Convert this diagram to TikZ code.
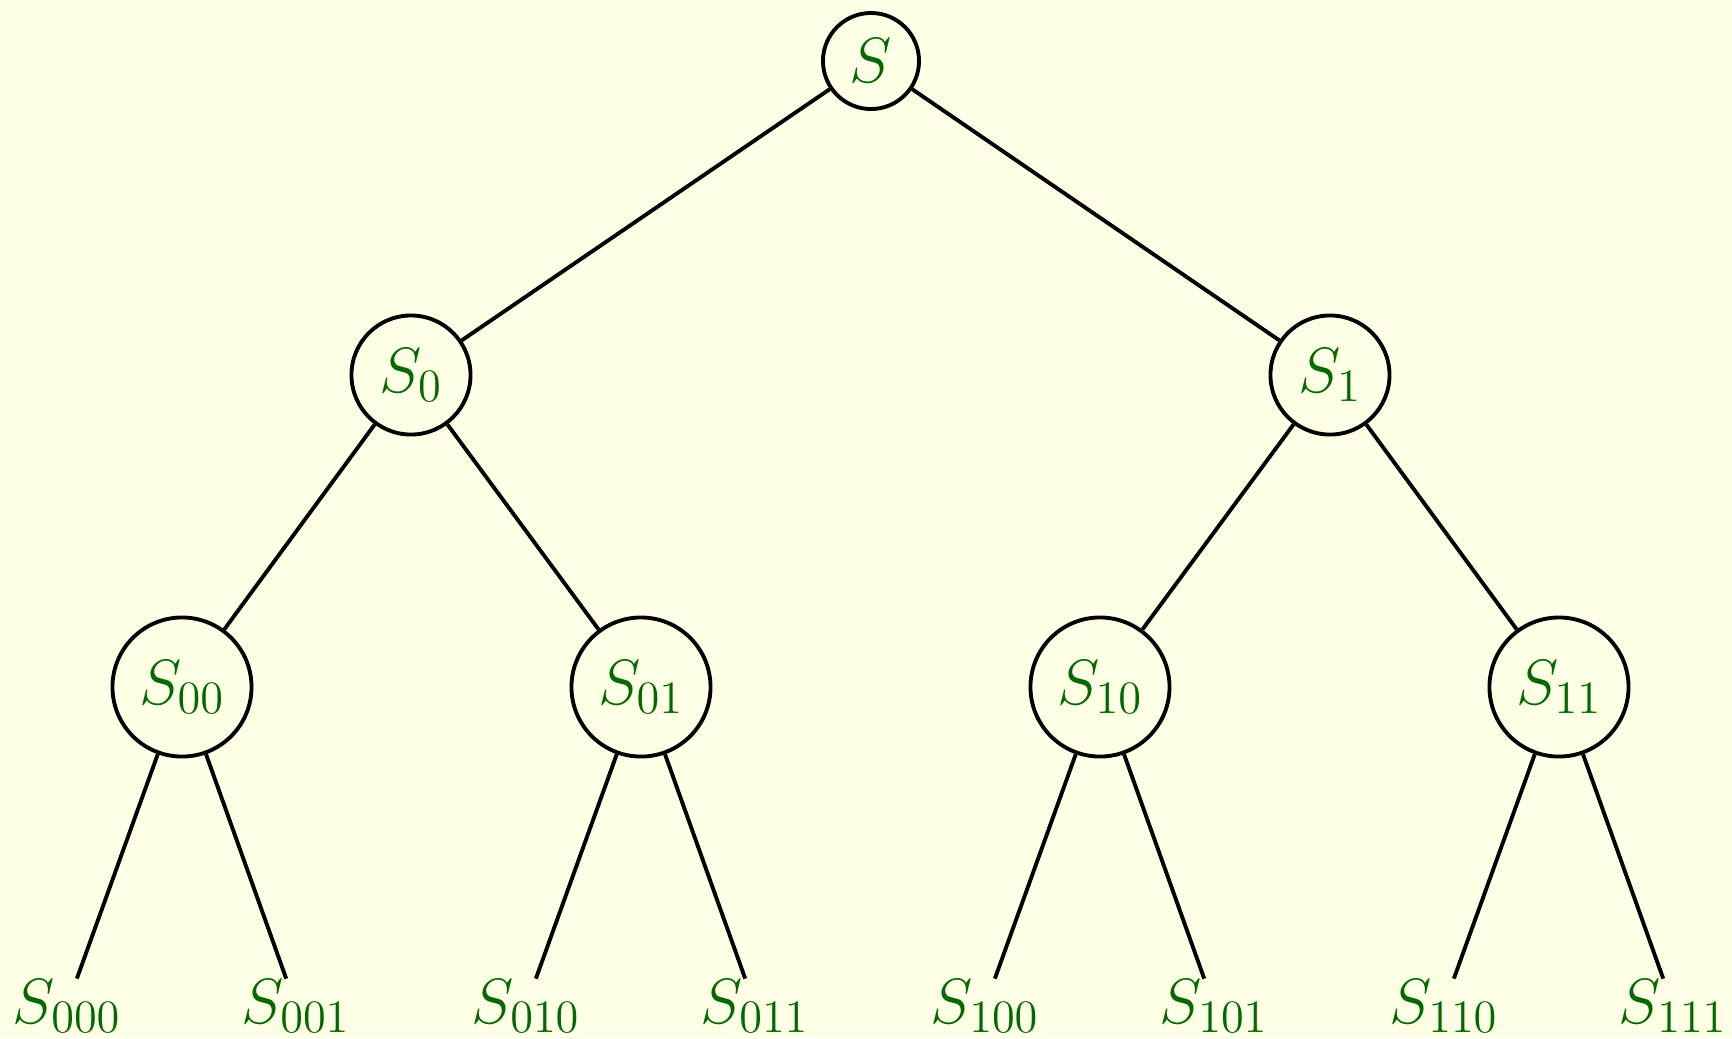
\documentclass[tikz,border=0pt]{standalone}
\usepackage{fix-cm}
\DeclareMathSizes{18.2}{18.2}{13.2}{10}
\definecolor{paper}{RGB}{255,255,229}
\definecolor{labelgreen}{RGB}{0,105,0}
\begin{document}
\begin{tikzpicture}[x=0.01cm,y=-0.01cm,
  every node/.style={text=labelgreen,font=\fontsize{18.2}{22}\selectfont},
  inner/.style={circle,draw=black,line width=1.1pt,inner sep=0pt},
  leaf/.style={inner sep=0pt},
  edge/.style={draw=black,line width=1.1pt}]
  \fill[paper] (0,0) rectangle (1732,1038);
  \useasboundingbox (0,0) rectangle (1732,1038);
  % root
  \node[inner,minimum size=0.96cm] (s) at (871,61) {$S$};
  % first level
  \node[inner,minimum size=1.19cm] (s0) at (411,375) {$S_0$};
  \node[inner,minimum size=1.19cm] (s1) at (1330,375) {$S_1$};
  % second level
  \node[inner,minimum size=1.39cm] (s00) at (182,687) {$S_{00}$};
  \node[inner,minimum size=1.39cm] (s01) at (641,687) {$S_{01}$};
  \node[inner,minimum size=1.39cm] (s10) at (1100,687) {$S_{10}$};
  \node[inner,minimum size=1.39cm] (s11) at (1559,687) {$S_{11}$};
  % leaves
  \node[leaf] (s000) at (67,1006) {$S_{000}$};
  \node[leaf] (s001) at (296,1006) {$S_{001}$};
  \node[leaf] (s010) at (526,1006) {$S_{010}$};
  \node[leaf] (s011) at (755,1006) {$S_{011}$};
  \node[leaf] (s100) at (985,1006) {$S_{100}$};
  \node[leaf] (s101) at (1214,1006) {$S_{101}$};
  \node[leaf] (s110) at (1444,1006) {$S_{110}$};
  \node[leaf] (s111) at (1673,1006) {$S_{111}$};
  % edges
  \draw[edge] (s) -- (s0);
  \draw[edge] (s) -- (s1);
  \draw[edge] (s0) -- (s00);
  \draw[edge] (s0) -- (s01);
  \draw[edge] (s1) -- (s10);
  \draw[edge] (s1) -- (s11);
  \draw[edge] (s00) -- (s000);
  \draw[edge] (s00) -- (s001);
  \draw[edge] (s01) -- (s010);
  \draw[edge] (s01) -- (s011);
  \draw[edge] (s10) -- (s100);
  \draw[edge] (s10) -- (s101);
  \draw[edge] (s11) -- (s110);
  \draw[edge] (s11) -- (s111);
\end{tikzpicture}
\end{document}
